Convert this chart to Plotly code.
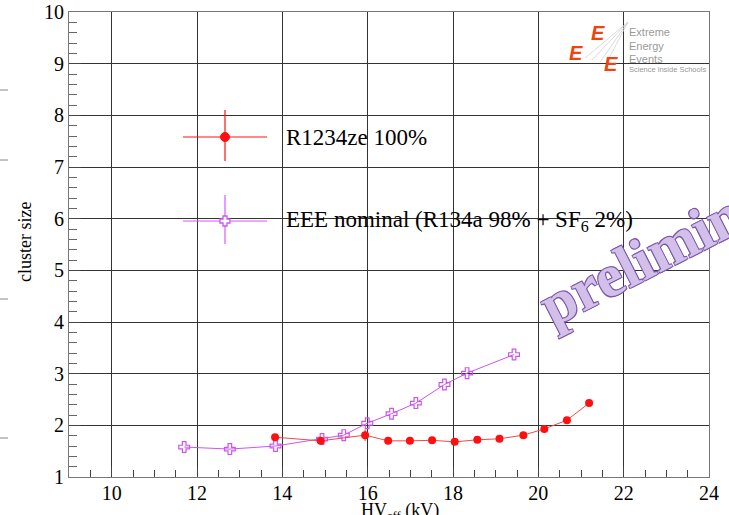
import plotly.graph_objects as go

# ---------------- data ----------------
hv_r1234ze = [13.83, 14.90, 15.94, 16.48, 16.99, 17.51, 18.04, 18.57, 19.09, 19.65, 20.14, 20.67, 21.19]
cs_r1234ze = [1.77, 1.70, 1.81, 1.70, 1.70, 1.71, 1.68, 1.72, 1.74, 1.81, 1.93, 2.10, 2.43]
err_r1234ze = [0, 0, 0.11, 0, 0, 0, 0, 0, 0, 0, 0, 0, 0]

hv_eee = [11.70, 12.77, 13.84, 14.93, 15.44, 15.99, 16.56, 17.13, 17.80, 18.33, 19.43]
cs_eee = [1.58, 1.54, 1.60, 1.735, 1.81, 2.04, 2.225, 2.43, 2.79, 3.01, 3.37]

label_r1234ze = "R1234ze 100%"
label_eee = "EEE nominal (R134a 98% + SF<sub>6</sub> 2%)"
x_title = "HV<sub>eff</sub> (kV)"
y_title = "cluster size"

W, H = 729, 515
L, R, T, B = 69, 709, 12, 477

def px(x):
    return (x - L) / (R - L)

def py(y):
    return (B - y) / (B - T)

SERIF = "Liberation Serif"
RED = "#ff1010"
REDLINE = "#ee4a4a"
PURPLE = "#cc55ee"

fig = go.Figure()

fig.add_trace(go.Scatter(
    x=hv_eee, y=cs_eee, mode="lines+markers",
    line=dict(color=PURPLE, width=1),
    marker=dict(symbol="cross-open", size=9, color=PURPLE, line=dict(width=1.2, color=PURPLE)),
    showlegend=False))

fig.add_trace(go.Scatter(
    x=hv_r1234ze, y=cs_r1234ze, mode="lines+markers",
    line=dict(color=REDLINE, width=1),
    marker=dict(symbol="circle", size=8, color=RED),
    error_y=dict(type="data", array=err_r1234ze, visible=True, color=RED, thickness=1, width=0),
    showlegend=False))

shapes = []
# legend white box
shapes.append(dict(type="rect", xref="paper", yref="paper",
                   x0=px(175), x1=px(641), y0=py(244), y1=py(95),
                   fillcolor="white", line=dict(width=0), layer="below"))
# logo white box
shapes.append(dict(type="rect", xref="paper", yref="paper",
                   x0=px(565), x1=px(703), y0=py(77), y1=py(13),
                   fillcolor="white", line=dict(width=0), layer="below"))
# legend crosses
for yc, col, vy0, vy1 in [(137, RED, 110, 161), (221, "#dd55ff", 195, 244)]:
    shapes.append(dict(type="line", xref="paper", yref="paper",
                       x0=px(183), x1=px(267), y0=py(yc), y1=py(yc), line=dict(color=col, width=1.2)))
    shapes.append(dict(type="line", xref="paper", yref="paper",
                       x0=px(225), x1=px(225), y0=py(vy0), y1=py(vy1), line=dict(color=col, width=1.2)))
shapes.append(dict(type="circle", xref="paper", yref="paper",
                   x0=px(220.5), x1=px(229.5), y0=py(132.5), y1=py(141.5),
                   fillcolor=RED, line=dict(color=RED, width=1)))
# open cross marker in legend
cx, cy, a, b = 225, 221, 5, 2
pts = [(cx-b, cy-a), (cx+b, cy-a), (cx+b, cy-b), (cx+a, cy-b), (cx+a, cy+b), (cx+b, cy+b),
       (cx+b, cy+a), (cx-b, cy+a), (cx-b, cy+b), (cx-a, cy+b), (cx-a, cy-b), (cx-b, cy-b)]
path = "M " + " L ".join(f"{px(u):.5f},{py(v):.5f}" for u, v in pts) + " Z"
shapes.append(dict(type="path", xref="paper", yref="paper", path=path,
                   fillcolor="white", line=dict(color=PURPLE, width=1.3)))
# logo fan lines
for (x0, y0, x1, y1) in [(585, 58, 628, 22), (592, 60, 628, 22), (600, 62, 628, 22), (607, 62, 628, 22)]:
    shapes.append(dict(type="line", xref="paper", yref="paper",
                       x0=px(x0), x1=px(x1), y0=py(y0), y1=py(y1), line=dict(color="#d0d0d0", width=0.8)))
# stray marks on the left edge
for yy in [90, 160, 299, 438]:
    shapes.append(dict(type="line", xref="paper", yref="paper",
                       x0=px(0), x1=px(8), y0=py(yy), y1=py(yy), line=dict(color="#888", width=1)))

annotations = []
annotations.append(dict(xref="paper", yref="paper", x=px(284), y=py(137), text=label_r1234ze,
                        showarrow=False, xanchor="left", yanchor="middle",
                        font=dict(family=SERIF, size=23, color="black")))
annotations.append(dict(xref="paper", yref="paper", x=px(284), y=py(221), text=label_eee,
                        showarrow=False, xanchor="left", yanchor="middle",
                        font=dict(family=SERIF, size=23, color="black")))
# axis titles
annotations.append(dict(xref="paper", yref="paper", x=px(400), y=py(498), text=x_title,
                        showarrow=False, xanchor="center", yanchor="top",
                        font=dict(family=SERIF, size=18, color="black")))
annotations.append(dict(xref="paper", yref="paper", x=px(25), y=py(242), text=y_title,
                        showarrow=False, xanchor="center", yanchor="middle", textangle=-90,
                        font=dict(family=SERIF, size=18, color="black")))
# logo
for t, yy, sz in [("Extreme", 32, 11), ("Energy", 46, 11), ("Events", 59, 11),
                  ("Science inside Schools", 69, 7.5)]:
    annotations.append(dict(xref="paper", yref="paper", x=px(627), y=py(yy), text=t,
                            showarrow=False, xanchor="left", yanchor="middle",
                            font=dict(family="Liberation Sans", size=sz, color="#9a9a9a")))
for ex, ey in [(598, 33), (576, 53), (611, 64)]:
    annotations.append(dict(xref="paper", yref="paper", x=px(ex), y=py(ey), text="<b><i>E</i></b>",
                            showarrow=False, xanchor="center", yanchor="middle",
                            font=dict(family="Liberation Sans", size=20, color="#ee4411")))
# watermark
annotations.append(dict(xref="paper", yref="paper", x=px(680), y=py(240), text="<b>preliminary</b>",
                        showarrow=False, xanchor="center", yanchor="middle", textangle=-27,
                        font=dict(family=SERIF, size=60, color="#d2c0ea",
                                  shadow="1px 1px 0 #7d5aa8, -1px -1px 0 #7d5aa8, 1px -1px 0 #7d5aa8, -1px 1px 0 #7d5aa8")))

fig.update_layout(
    width=W, height=H,
    margin=dict(l=L, r=W - R, t=T, b=H - B, pad=0, autoexpand=False),
    paper_bgcolor="white", plot_bgcolor="white",
    shapes=shapes, annotations=annotations,
    xaxis=dict(range=[9, 24], tick0=10, dtick=2, showgrid=True, gridcolor="#333", gridwidth=1,
               automargin=False, ticklabelstandoff=-2,
               ticks="inside", ticklen=10, tickcolor="#444",
               minor=dict(dtick=0.5, ticks="inside", ticklen=7, tickcolor="#444", showgrid=False),
               showline=True, linecolor="#777", linewidth=1, mirror=True, zeroline=False,
               tickfont=dict(family=SERIF, size=20, color="black")),
    yaxis=dict(range=[1, 10], tick0=1, dtick=1, showgrid=True, gridcolor="#333", gridwidth=1,
               automargin=False,
               ticks="inside", ticklen=12, tickcolor="#444",
               minor=dict(dtick=0.2, ticks="inside", ticklen=8, tickcolor="#666", showgrid=False),
               showline=True, linecolor="#777", linewidth=1, mirror=True, zeroline=False,
               tickfont=dict(family=SERIF, size=20, color="black")),
)

fig.write_html("out.html")
